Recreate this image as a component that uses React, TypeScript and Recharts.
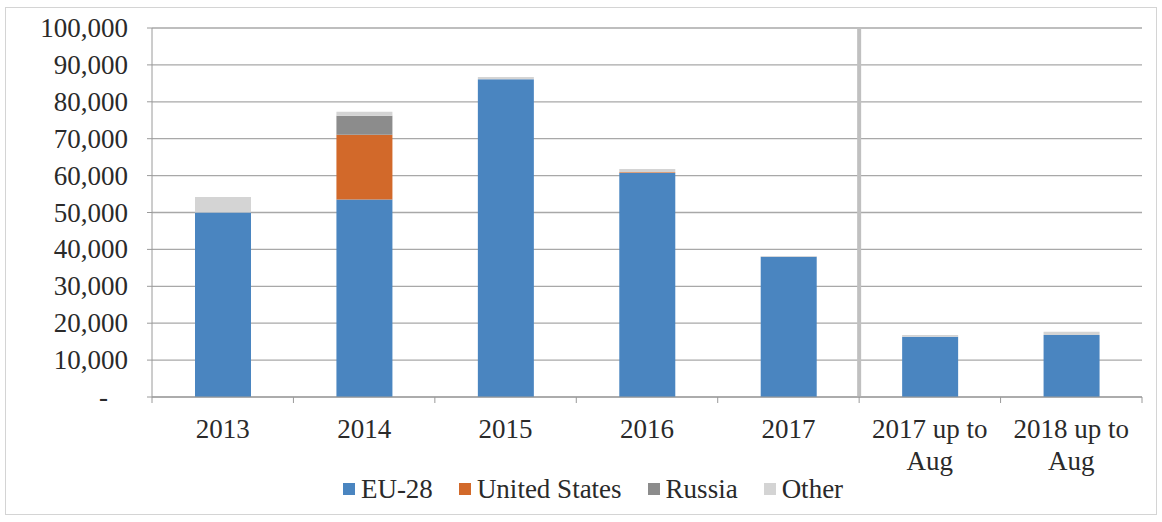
import { Bar, BarChart, CartesianGrid, Legend, ReferenceLine, XAxis, YAxis } from 'recharts';

const categories = ['2013', '2014', '2015', '2016', '2017', '2017 up to Aug', '2018 up to Aug'];
const eu28 = [50000, 53500, 86100, 60700, 38000, 16300, 16800];
const unitedStates = [0, 17600, 0, 200, 0, 0, 0];
const russia = [0, 5100, 0, 0, 0, 0, 0];
const other = [4200, 1100, 600, 900, 200, 500, 900];
const yTicks = [0, 10000, 20000, 30000, 40000, 50000, 60000, 70000, 80000, 90000, 100000];

const series = [
  { key: 'eu28', name: 'EU-28', color: '#4a85c0' },
  { key: 'us', name: 'United States', color: '#d2692a' },
  { key: 'russia', name: 'Russia', color: '#8c8c8c' },
  { key: 'other', name: 'Other', color: '#d4d4d4' }
];

const data = categories.map((name, i) => ({
  name,
  eu28: eu28[i],
  us: unitedStates[i],
  russia: russia[i],
  other: other[i]
}));

const FONT = 'Liberation Serif, Times New Roman, serif';
const FONT_SIZE = 27;
const TEXT = '#2a2a2a';
const AXIS = '#9a9a9a';

// Excel-style category labels: wrap "xxxx up to Aug" onto two lines, tick marks on band edges
function CategoryTick(props: any) {
  const { x, y, payload, width, visibleTicksCount, index } = props;
  const label = String(payload.value);
  const m = label.match(/^(.*) (Aug)$/);
  const lines = m ? [m[1], m[2]] : [label];
  const count = visibleTicksCount ?? categories.length;
  const half = (width ?? 990) / count / 2;
  const axisY = y - 2;
  return (
    <g>
      <line x1={x - half} x2={x - half} y1={axisY} y2={axisY + 6} stroke={AXIS} />
      {index === count - 1 && <line x1={x + half} x2={x + half} y1={axisY} y2={axisY + 6} stroke={AXIS} />}
      {lines.map((t, i) => (
        <text
          key={i}
          x={x}
          y={axisY + 41 + i * 32}
          textAnchor="middle"
          fill={TEXT}
          fontSize={FONT_SIZE}
          fontFamily={FONT}
        >
          {t}
        </text>
      ))}
    </g>
  );
}

function ValueTick(props: any) {
  const { x, y, payload } = props;
  const v = Number(payload.value);
  const label = v === 0 ? '-' : v.toLocaleString('en-US');
  return (
    <text x={v === 0 ? x - 20 : x} y={y + 9} textAnchor="end" fill={TEXT} fontSize={FONT_SIZE} fontFamily={FONT}>
      {label}
    </text>
  );
}

function LegendRow() {
  return (
    <div
      style={{
        display: 'flex',
        justifyContent: 'center',
        gap: 26,
        fontFamily: FONT,
        fontSize: FONT_SIZE,
        color: TEXT,
        lineHeight: '30px',
        paddingLeft: 44
      }}
    >
      {series.map((s) => (
        <span key={s.key} style={{ display: 'flex', alignItems: 'center', gap: 6 }}>
          <span style={{ width: 12, height: 12, background: s.color, display: 'inline-block' }} />
          {s.name}
        </span>
      ))}
    </div>
  );
}

export default function App() {
  return (
    <div style={{ position: 'fixed', left: 0, top: 0, width: 1162, height: 522, background: '#fff' }}>
      <div
        style={{
          position: 'absolute',
          left: 5,
          top: 7,
          width: 1150,
          height: 506,
          border: '1px solid #d4d4d4'
        }}
      />
      <BarChart
        width={1162}
        height={522}
        data={data}
        margin={{ top: 28, right: 20, left: 0, bottom: 18 }}
        style={{ position: 'absolute', left: 0, top: 0 }}
      >
        <CartesianGrid vertical={false} stroke="#a8a8a8" strokeWidth={1.3} />
        <XAxis
          dataKey="name"
          interval={0}
          height={77}
          tickLine={false}
          tickSize={0}
          tickMargin={2}
          stroke={AXIS}
          tick={<CategoryTick />}
        />
        <YAxis
          width={152}
          domain={[0, 100000]}
          ticks={yTicks}
          interval={0}
          tickSize={5}
          tickMargin={19}
          stroke={AXIS}
          tick={<ValueTick />}
        />
        <ReferenceLine x="2017 up to Aug" position="start" stroke="#c0c0c0" strokeWidth={4} ifOverflow="visible" />
        {series.map((s) => (
          <Bar
            key={s.key}
            dataKey={s.key}
            name={s.name}
            stackId="a"
            fill={s.color}
            barSize={56}
            isAnimationActive={false}
          />
        ))}
        <Legend verticalAlign="bottom" content={<LegendRow />} />
      </BarChart>
    </div>
  );
}
